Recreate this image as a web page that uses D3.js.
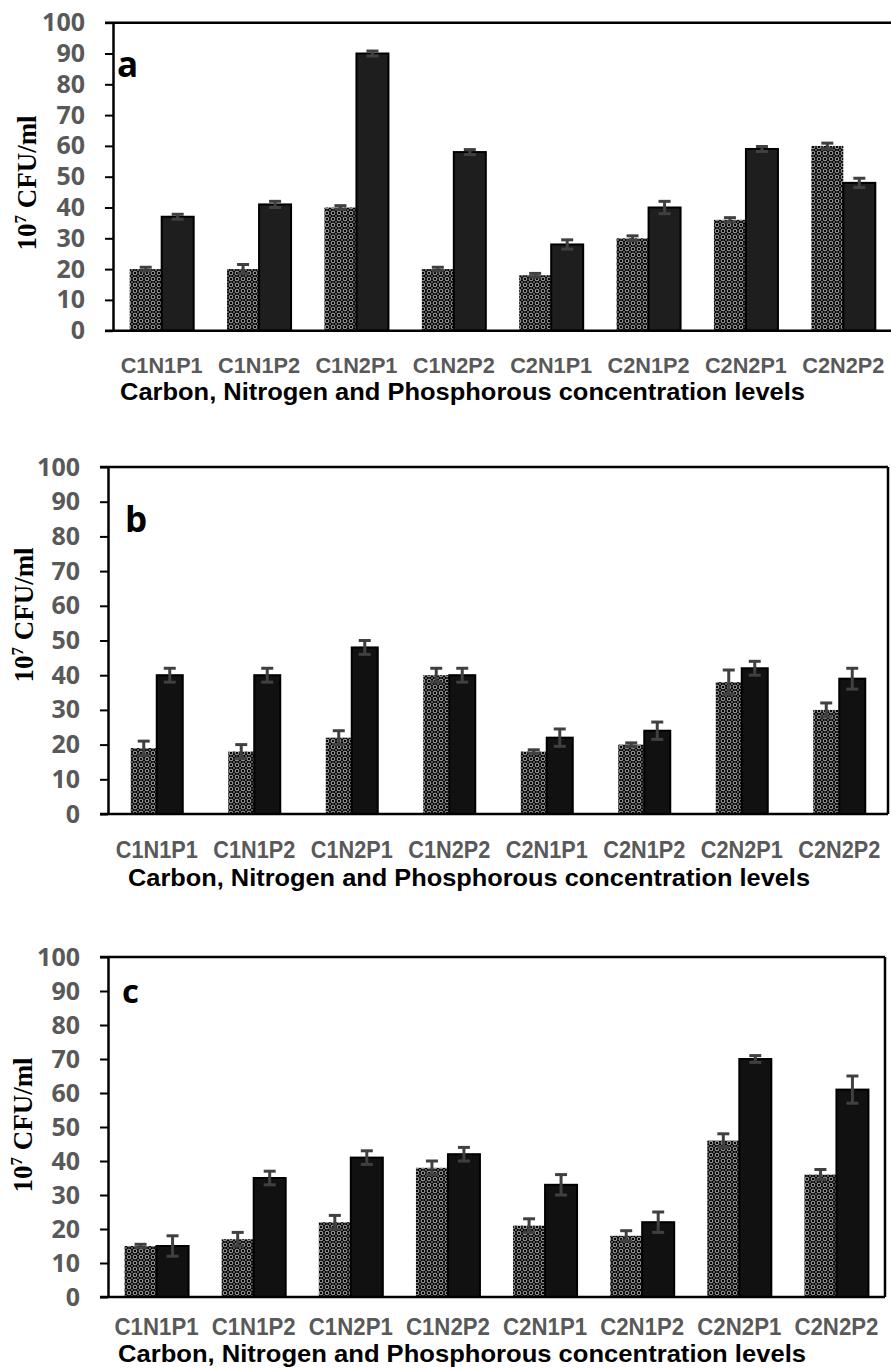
<!DOCTYPE html>
<html><head><meta charset="utf-8">
<script src="https://cdn.jsdelivr.net/npm/d3@7"></script>
<style>body{margin:0;background:#fff} svg{display:block}</style>
</head><body>
<svg id="chart" width="891" height="1369"></svg>
<script>
// ---------- data ----------
const categories = ["C1N1P1","C1N1P2","C1N2P1","C1N2P2","C2N1P1","C2N1P2","C2N2P1","C2N2P2"];
const yTicks = [0,10,20,30,40,50,60,70,80,90,100];
const xTitle = "Carbon, Nitrogen and Phosphorous concentration levels";
const panelLetters = ["a","b","c"];

const aSeries1    = [20, 20, 40, 20, 18, 30, 36, 60];
const aSeries1Err = [0.6, 1.5, 0.6, 0.6, 0.6, 0.8, 0.7, 0.9];
const aSeries2    = [37, 41, 90, 58, 28, 40, 59, 48];
const aSeries2Err = [0.8, 1, 0.8, 0.8, 1.5, 2, 0.8, 1.5];

const bSeries1    = [19, 18, 22, 40, 18, 20, 38, 30];
const bSeries1Err = [2, 2, 2, 2, 0.5, 0.5, 3.5, 2];
const bSeries2    = [40, 40, 48, 40, 22, 24, 42, 39];
const bSeries2Err = [2, 2, 2, 2, 2.5, 2.5, 2, 3];

const cSeries1    = [15, 17, 22, 38, 21, 18, 46, 36];
const cSeries1Err = [0.5, 2, 2, 2, 2, 1.5, 2, 1.5];
const cSeries2    = [15, 35, 41, 42, 33, 22, 70, 61];
const cSeries2Err = [3, 2, 2, 2, 3, 3, 1, 4];

// ---------- layout ----------
const panels = [
  {s1:aSeries1, e1:aSeries1Err, s2:aSeries2, e2:aSeries2Err,
   left:113, right:892, top:22.7, bottom:330.7, barW:32, frameRight:false,
   letter:[117,77,35], yt:[36,183], catY:373, catFont:22, catLen:82, title:[120,400,685], solid:"#1e1e1e"},
  {s1:bSeries1, e1:bSeries1Err, s2:bSeries2, e2:bSeries2Err,
   left:108, right:888, top:467, bottom:814, barW:26, frameRight:true,
   letter:[125,532,35], yt:[33,615], catY:858, catFont:24, catLen:82, title:[128,886,682], solid:"#111"},
  {s1:cSeries1, e1:cSeries1Err, s2:cSeries2, e2:cSeries2Err,
   left:108, right:885, top:957, bottom:1297, barW:32, frameRight:true,
   letter:[122,1003,33], yt:[32,1125], catY:1335, catFont:24, catLen:84, title:[118,1362,688], solid:"#111"}
];

const svg = d3.select("#chart");
const defs = svg.append("defs");
const pat = defs.append("pattern").attr("id","lattice")
  .attr("width",6).attr("height",6).attr("patternUnits","userSpaceOnUse");
pat.append("rect").attr("width",6).attr("height",6).attr("fill","#000");
pat.append("circle").attr("cx",3).attr("cy",3).attr("r",1.9)
  .attr("fill","none").attr("stroke","#fff").attr("stroke-width",0.7);
[[0,0],[6,0],[0,6],[6,6]].forEach(([cx,cy])=>
  pat.append("circle").attr("cx",cx).attr("cy",cy).attr("r",0.7).attr("fill","#fff"));

const sans = "'Open Sans', 'Noto Sans', sans-serif";
const narrow = "'Liberation Sans Narrow', 'Liberation Sans', Arial, sans-serif";

panels.forEach((p, pi) => {
  const g = svg.append("g");
  const y = d3.scaleLinear().domain([0,100]).range([p.bottom, p.top]);
  const x = d3.scaleBand().domain(categories).range([p.left, p.right]);
  const sub = d3.scaleBand().domain([0,1]).range([0, 2*p.barW]);
  const off = (x.bandwidth() - 2*p.barW)/2;

  const rows = categories.map((c,i)=>({c, v:[p.s1[i],p.s2[i]], e:[p.e1[i],p.e2[i]]}));

  // bars
  rows.forEach(r => {
    [0,1].forEach(k => {
      g.append("rect")
        .attr("x", x(r.c)+off+sub(k))
        .attr("y", y(r.v[k]))
        .attr("width", sub.bandwidth())
        .attr("height", y(0)-y(r.v[k]))
        .attr("fill", k===0 ? "url(#lattice)" : p.solid)
        .attr("stroke", k===0 ? "none" : "#000")
        .attr("stroke-width", k===0 ? 0 : 2);
    });
  });
  // error bars
  rows.forEach(r => {
    [0,1].forEach(k => {
      const cx = x(r.c)+off+sub(k)+sub.bandwidth()/2;
      const lo = y(r.v[k]-r.e[k]), hi = y(r.v[k]+r.e[k]);
      const eg = g.append("g").attr("stroke","#404040").attr("stroke-width",3);
      eg.append("line").attr("x1",cx).attr("x2",cx).attr("y1",lo).attr("y2",hi);
      eg.append("line").attr("x1",cx-6).attr("x2",cx+6).attr("y1",hi).attr("y2",hi);
      eg.append("line").attr("x1",cx-6).attr("x2",cx+6).attr("y1",lo).attr("y2",lo);
    });
  });

  // frame
  const fr = g.append("g").attr("stroke","#000").attr("stroke-width",2.5).attr("fill","none");
  fr.append("line").attr("x1",p.left-8).attr("x2",p.frameRight ? p.right : 891).attr("y1",y(100)).attr("y2",y(100));
  fr.append("line").attr("x1",p.left-8).attr("x2",p.frameRight ? p.right : 891).attr("y1",y(0)).attr("y2",y(0));
  if (p.frameRight)
    fr.append("line").attr("x1",p.right).attr("x2",p.right).attr("y1",y(100)).attr("y2",y(0));

  // y axis
  const ax = g.append("g").attr("transform",`translate(${p.left},0)`)
    .call(d3.axisLeft(y).tickValues(yTicks).tickSize(8).tickSizeOuter(0).tickPadding(20));
  ax.select(".domain").attr("stroke","#000").attr("stroke-width",2.5);
  ax.selectAll(".tick line").attr("stroke","#000").attr("stroke-width",2);
  ax.selectAll(".tick text").attr("font-family",sans).attr("font-weight",700)
    .attr("font-size",25).attr("fill","#595959");

  // category labels
  g.selectAll(".cat").data(categories).enter().append("text")
    .attr("x", d => x(d)+x.bandwidth()/2).attr("y", p.catY)
    .attr("text-anchor","middle").attr("font-family",narrow).attr("font-weight",700)
    .attr("font-size",p.catFont).attr("textLength",p.catLen).attr("lengthAdjust","spacingAndGlyphs")
    .attr("fill","#595959").text(d=>d);

  // x title
  g.append("text").attr("x",p.title[0]).attr("y",p.title[1])
    .attr("textLength",p.title[2]).attr("lengthAdjust","spacingAndGlyphs")
    .attr("font-family",narrow).attr("font-weight",700).attr("font-size",24)
    .attr("fill","#000").text(xTitle);

  // y title
  const yt = g.append("text").attr("transform",`translate(${p.yt[0]},${p.yt[1]}) rotate(-90)`)
    .attr("text-anchor","middle").attr("font-family","'Liberation Serif','Times New Roman',serif")
    .attr("font-weight",700).attr("font-size",27).attr("fill","#000");
  yt.append("tspan").text("10");
  yt.append("tspan").attr("font-size",17).attr("dy",-10).text("7");
  yt.append("tspan").attr("dy",10).text(" CFU/ml");

  // panel letter
  g.append("text").attr("x",p.letter[0]).attr("y",p.letter[1])
    .attr("font-family",sans).attr("font-weight",700).attr("font-size",p.letter[2])
    .attr("fill","#000").text(panelLetters[pi]);
});
</script>
</body></html>
